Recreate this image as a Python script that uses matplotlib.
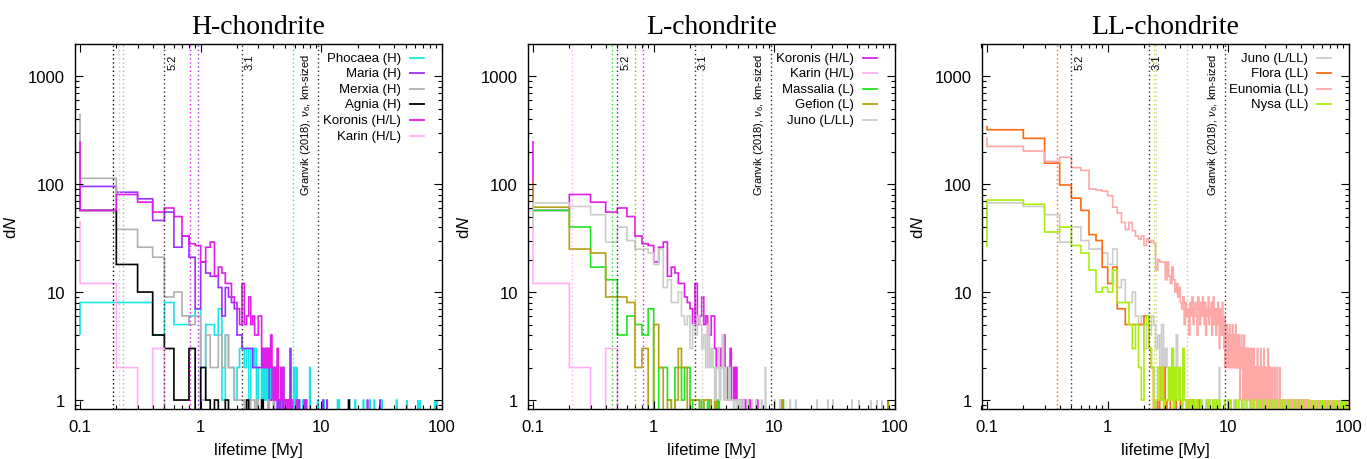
import numpy as np
import matplotlib.pyplot as plt
from matplotlib import transforms
from matplotlib.ticker import NullFormatter

plt.rcParams['font.family'] = ['Liberation Sans', 'DejaVu Sans']
plt.rcParams['mathtext.fontset'] = 'custom'
plt.rcParams['mathtext.rm'] = 'Liberation Sans'
plt.rcParams['mathtext.it'] = 'Liberation Sans:italic'

bin_width = 0.1   # My
n_bins = 1000     # 0 .. 100 My

# counts per 0.1 My bin, first entry is the 0.0-0.1 My bin
# *_tail: lifetimes (My) of single bodies further out
phocaea_head = [4, 8, 8, 8, 4, 8, 5, 5, 6, 7, 2, 5, 5, 4, 7, 1, 4, 2, 2, 1, 2, 3, 3, 2, 3, 1, 3, 2, 3, 1,
                2, 2, 1, 2, 1, 2, 1, 2, 1, 1, 2, 1, 1, 2, 0, 1, 1, 0, 2, 1]
phocaea_tail = [5.3, 5.6, 5.6, 5.9, 5.9, 6.2, 6.2, 6.6, 7.0, 7.5, 8.0, 8.0, 9.3, 10.6, 13.7, 14.0, 16.6,
                17.0, 19.2, 22.3, 25.4, 27.5, 31.8, 42.0, 51.0, 63.0, 66.0, 87.0, 91.0]

maria_head = [60, 95, 84, 73, 46, 55, 26, 33, 21, 7, 19, 15, 14, 14, 11, 6, 11, 9, 8, 7, 4, 4, 3, 3, 3, 3,
              3, 2, 2, 2, 2, 2, 3, 2, 2, 3, 2, 1, 1, 2, 2, 2, 1, 0, 1, 0, 1, 1, 0, 1, 1, 0, 1, 0, 0, 2]
maria_tail = [5.6, 6.6, 7.4, 10.3, 11.2, 24.2, 30.6]

merxia_head = [450, 113, 38, 26, 21, 9, 10, 6, 5, 6, 1, 4, 2, 2, 4, 2, 4, 2, 2, 1, 1, 1, 1, 0, 1, 0, 1, 1,
               0, 1, 0, 0, 1]
merxia_tail = [3.6, 4.1, 5.1]

agnia_head = [60, 57, 18, 10, 4, 3, 1, 1, 3, 0, 2, 1, 0, 1, 0, 0, 1, 0, 0, 0, 0, 0, 0, 0, 1]
agnia_tail = [3.3, 17.0]

koronis_head = [250, 57, 80, 68, 55, 60, 50, 33, 28, 27, 19, 26, 29, 14, 17, 15, 12, 12, 9, 8, 7, 5, 12, 5,
                6, 9, 5, 6, 4, 4, 6, 6, 3, 2, 3, 2, 3, 2, 4, 2, 1, 2, 1, 3, 1, 1, 2, 1, 2, 1, 0, 1, 1, 0, 1, 1]
koronis_tail = [5.7, 6.2, 7.2]

karin_head = [45, 12, 2, 0, 3]

massalia_head = [47, 57, 40, 17, 13, 4, 6, 5, 4, 7, 0, 2, 2, 1, 0, 2, 2, 1, 2, 2, 0, 1, 1, 1, 0, 1, 0, 0, 1]
massalia_tail = [3.4, 11.8]

gefion_head = [104, 61, 25, 23, 9, 9, 8, 2, 3, 0, 5, 2, 0, 1, 0, 1, 3, 2, 2, 0, 1, 1, 1, 1, 0, 0, 1, 1, 1, 1]
gefion_tail = [3.2, 11.5, 88.0]

juno_head = [40, 67, 62, 52, 29, 40, 30, 25, 25, 23, 18, 25, 11, 13, 8, 8, 10, 6, 5, 6, 3, 5, 4, 6, 5, 3, 4,
             2, 5, 2, 3, 2, 1, 2, 3, 1, 2, 4, 1, 2, 1, 1, 2, 1, 1, 1, 0, 1, 1, 0, 1]
juno_tail = [5.2, 5.6, 6.1, 6.5, 7.1, 7.8, 8.4, 8.4, 10.1, 11.2, 13.5, 15.0, 22.7, 27.7, 30.5, 44.0, 50.5,
             63.0, 71.0, 78.0]

flora_head = [347, 318, 265, 156, 98, 74, 57, 34, 30, 17, 12, 17, 7, 7, 5, 5, 5, 5, 5, 5, 6, 6, 3, 2, 0, 1,
              0, 2, 1, 2, 0, 1]
flora_tail = [3.3, 3.6, 4.0, 4.6, 5.0, 5.7]

eunomia_head = [270, 223, 202, 162, 177, 142, 134, 90, 88, 86, 78, 61, 54, 44, 38, 44, 37, 33, 31, 33, 27,
                31, 29, 30, 28, 16, 20, 19, 19, 19, 13, 19, 14, 12, 17, 13, 10, 12, 9, 11]
# one digit per 0.1 My bin, 4.0 - 27.0 My
eunomia_mid = ("8795867486"
               "9578649758" "6975846795" "7684695764" "7586375648"
               "5436243523" "4253243253" "2432352324" "3242313242" "3213242132" "2312312231"
               "2131202131" "2113021211" "1201312102" "1210131120" "2110211301" "1201121011"
               "2011301102" "1101210110" "1021101101" "1101201011" "0110120110" "1011010210")
eunomia_tail = [27.4, 28.1, 28.6, 29.3, 29.9, 30.4, 31.2, 31.9, 32.5, 33.4, 34.1, 34.8, 35.7, 36.6, 37.3,
                38.4, 39.2, 40.1, 41.0, 42.2, 43.0, 44.3, 45.1, 46.5, 47.6, 48.4, 49.9, 51.2, 52.3, 53.9,
                55.0, 56.6, 57.8, 59.3, 60.8, 62.5, 63.7, 65.6, 67.2, 68.9, 70.4, 72.3, 74.0, 75.8, 77.9,
                79.6, 81.4, 83.7, 85.5, 87.8, 89.9, 92.1, 94.6, 96.8, 99.2]

nysa_head = [26, 71, 65, 36, 40, 27, 23, 16, 10, 11, 10, 16, 8, 8, 8, 5, 3, 5, 2, 1, 5, 6, 3, 2, 0, 1, 2, 1,
             2, 0, 1, 1, 2, 1, 3, 0, 2, 1, 1, 2, 1, 0, 3, 1, 1, 0, 1, 1]
nysa_tail = [4.9, 5.2, 5.6, 5.9, 6.7, 6.9, 7.4, 7.6, 8.1, 8.4, 9.3, 9.9, 10.4, 11.6, 12.2, 12.9, 14.1, 15.5,
             16.4, 17.7, 18.6, 19.9, 21.9, 23.6, 25.0, 27.5, 29.5, 32.0, 35.5, 38.5, 41.8, 45.5, 50.6, 54.0,
             57.5, 59.5, 63.5, 67.5, 74.5, 79.5, 84.0, 87.5, 92.0, 96.5]

# mean lifetimes (My), dotted lines
mean_life = {'Phocaea': 5.85, 'Maria': 0.955, 'Merxia': 0.227, 'Agnia': 0.188, 'Koronis': 0.815,
             'Karin': 0.21, 'Massalia': 0.454, 'Gefion': 0.70, 'Juno': 2.5, 'Flora': 0.38,
             'Eunomia': 4.55, 'Nysa': 2.42}
res_x = [0.5, 2.2]
res_labels = ['5:2', '3:1']
granvik_x = 9.3
granvik_label = r'Granvik (2018), $\nu_6$, km-sized'

colors = {'Phocaea': '#19e6e6', 'Maria': '#9b30ff', 'Merxia': '#b0b0b0', 'Agnia': '#000000',
          'Koronis': '#e01ee8', 'Karin': '#ffb0f5', 'Massalia': '#1ee61e', 'Gefion': '#b4a014',
          'Juno': '#cccccc', 'Flora': '#ff6a14', 'Eunomia': '#ffa8a8', 'Nysa': '#aaee11'}


def hist(head, tail=(), mid='', mid_start=0.0):
    c = np.zeros(n_bins)
    c[:len(head)] = head
    i0 = int(round(mid_start / bin_width))
    for i, ch in enumerate(mid):
        c[i0 + i] = int(ch)
    for t in tail:
        c[int(t / bin_width)] += 1
    return c


counts = {
    'Phocaea': hist(phocaea_head, phocaea_tail),
    'Maria': hist(maria_head, maria_tail),
    'Merxia': hist(merxia_head, merxia_tail),
    'Agnia': hist(agnia_head, agnia_tail),
    'Koronis': hist(koronis_head, koronis_tail),
    'Karin': hist(karin_head),
    'Massalia': hist(massalia_head, massalia_tail),
    'Gefion': hist(gefion_head, gefion_tail),
    'Juno': hist(juno_head, juno_tail),
    'Flora': hist(flora_head, flora_tail),
    'Eunomia': hist(eunomia_head, eunomia_tail, eunomia_mid, 4.0),
    'Nysa': hist(nysa_head, nysa_tail),
}

panels = [
    ('H-chondrite', [('Phocaea', 'Phocaea (H)'), ('Maria', 'Maria (H)'), ('Merxia', 'Merxia (H)'),
                     ('Agnia', 'Agnia (H)'), ('Koronis', 'Koronis (H/L)'), ('Karin', 'Karin (H/L)')]),
    ('L-chondrite', [('Koronis', 'Koronis (H/L)'), ('Karin', 'Karin (H/L)'), ('Massalia', 'Massalia (L)'),
                     ('Gefion', 'Gefion (L)'), ('Juno', 'Juno (L/LL)')]),
    ('LL-chondrite', [('Juno', 'Juno (L/LL)'), ('Flora', 'Flora (LL)'), ('Eunomia', 'Eunomia (LL)'),
                      ('Nysa', 'Nysa (LL)')]),
]

edges = np.round(np.arange(n_bins + 1) * bin_width, 2)
edges[0] = 0.1   # the 0-0.1 bin shows only as the jump at 0.1

W, H = 1367, 460
fig = plt.figure(figsize=(W / 100, H / 100), dpi=100)
lefts = [74.5, 527.5, 981.5]

for (title, fams), left in zip(panels, lefts):
    ax = fig.add_axes([left / W, 1 - 410 / H, 367.5 / W, 365 / H])
    ax.set_xscale('log')
    ax.set_yscale('log')
    trans = transforms.blended_transform_factory(ax.transData, ax.transAxes)

    for name, _ in fams:
        ax.axvline(mean_life[name], color=colors[name], ls=(0, (1, 2)), lw=1.0)
    for x, lab in zip(res_x, res_labels):
        ax.axvline(x, color='#333333', ls=(0, (1, 2)), lw=1.0)
        ax.text(x * 1.06, 0.975, lab, rotation=90, ha='left', va='top', fontsize=8, transform=trans)
    ax.axvline(granvik_x, color='#333333', ls=(0, (1, 2)), lw=1.0)
    ax.text(granvik_x / 1.09, 0.975, granvik_label, rotation=90, ha='right', va='top', fontsize=8,
            transform=trans)

    for name, _ in fams:
        c = counts[name]
        ax.stairs(np.where(c > 0, c, 0.3), edges, baseline=None, color=colors[name], lw=1.2)

    for i, (name, lab) in enumerate(fams):
        y = 0.9625 - i * 0.0427
        ax.text(0.889, y, lab, ha='right', va='center', fontsize=9.5, transform=ax.transAxes)
        ax.plot([0.912, 0.950], [y, y], color=colors[name], lw=1.3, transform=ax.transAxes)

    ax.set_xlim(0.09, 100)
    ax.set_ylim(0.826, 1980)
    ax.set_xticks([0.1, 1, 10, 100], ['0.1', '1', '10', '100'])
    ax.set_yticks([1, 10, 100, 1000], ['1', '10', '100', '1000'])
    ax.xaxis.set_minor_formatter(NullFormatter())
    ax.yaxis.set_minor_formatter(NullFormatter())
    ax.tick_params(which='both', direction='in', top=True, right=True, labelsize=12, width=0.8)
    ax.tick_params(which='major', length=6)
    ax.tick_params(which='minor', length=3)
    ax.tick_params(axis='x', pad=7)
    ax.tick_params(axis='y', pad=7)
    for s in ax.spines.values():
        s.set_linewidth(1.0)
    ax.set_xlabel('lifetime [My]', fontsize=12, labelpad=6)
    ax.set_ylabel('d$N$', fontsize=12, labelpad=6)
    ax.set_title(title, family=['Liberation Serif', 'DejaVu Serif'], fontsize=20, pad=8)

fig.savefig('out.png', dpi=100)
